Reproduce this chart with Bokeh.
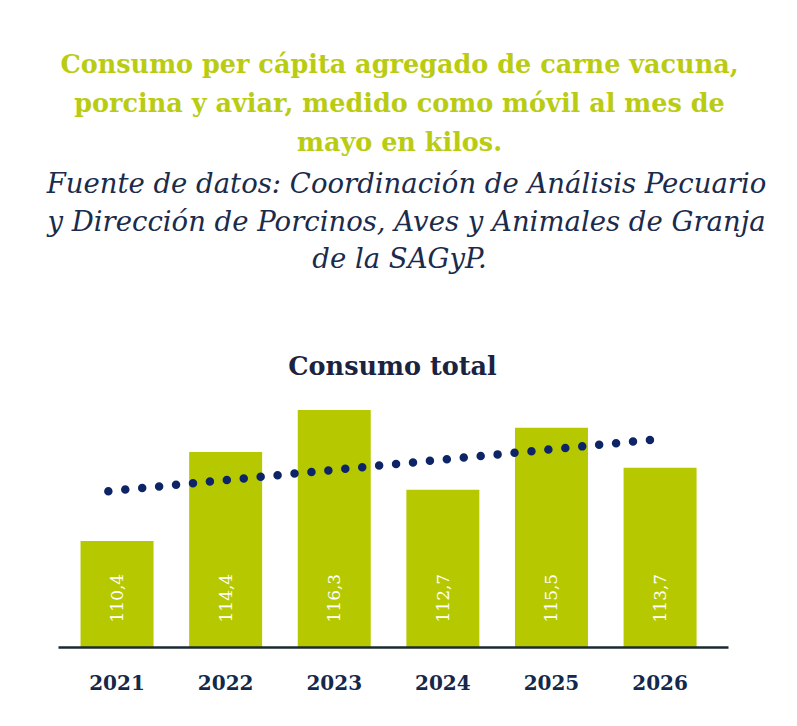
import numpy as np
from bokeh.plotting import figure
from bokeh.layouts import column
from bokeh.models import Range1d, FixedTicker
from bokeh.core.properties import value
from bokeh.embed import file_html
from bokeh.resources import INLINE

# ---- data ----
years = ["2021", "2022", "2023", "2024", "2025", "2026"]
consumo = [110.4, 114.4, 116.3, 112.7, 115.5, 113.7]
value_labels = ["110,4", "114,4", "116,3", "112,7", "115,5", "113,7"]
title_lines = [
    "Consumo per cápita agregado de carne vacuna,",
    "porcina y aviar, medido como móvil al mes de",
    "mayo en kilos.",
]
subtitle_lines = [
    "Fuente de datos: Coordinación de Análisis Pecuario",
    "y Dirección de Porcinos, Aves y Animales de Granja",
    "de la SAGyP.",
]
chart_title = "Consumo total"

GREEN = "#b6c900"
TITLE_GREEN = "#b9cc12"
NAVY = "#1a2b4c"
DOTS = "#0d2566"
YEARS_C = "#14284b"

# ---- header figure (titles) ----
head = figure(width=797, height=395, x_range=Range1d(0, 797), y_range=Range1d(395, 0),
              output_backend="svg", toolbar_location=None,
              x_axis_location=None, y_axis_location=None,
              min_border=0, outline_line_color=None)
head.frame_align = False
head.grid.visible = False
head.text(x=[399] * 3, y=[63, 102, 141], text=title_lines, text_align="center",
          text_baseline="middle", text_font=value("DejaVu Serif"), text_font_style="bold",
          text_font_size="25.5px", text_color=TITLE_GREEN)
head.text(x=[406, 406, 399], y=[182, 220, 257], text=subtitle_lines, text_align="center",
          text_baseline="middle", text_font=value("DejaVu Serif"), text_font_style="italic",
          text_font_size="27.5px", text_color=NAVY)
head.text(x=[392], y=[365], text=[chart_title], text_align="center",
          text_baseline="middle", text_font=value("DejaVu Serif"), text_font_style="bold",
          text_font_size="25.5px", text_color="#1c2340")

# ---- chart figure ----
idx = list(range(len(years)))
Y0 = 105.6
p = figure(width=797, height=331, x_range=Range1d(-0.539, 5.63), y_range=Range1d(Y0, 116.95),
           output_backend="svg", toolbar_location=None, y_axis_location=None,
           min_border_left=58, min_border_right=69, min_border_top=0, min_border_bottom=79,
           outline_line_color=None)
p.frame_align = False
p.grid.visible = False

p.vbar(x=idx, top=consumo, bottom=Y0, width=0.672, fill_color=GREEN, line_color=None)

p.text(x=idx, y=[Y0] * len(idx), text=value_labels, angle=np.pi / 2, y_offset=-25,
       text_align="left", text_baseline="middle", text_font=value("DejaVu Serif"),
       text_font_size="17px", text_color="white")

coef = np.polyfit(idx, consumo, 1)
tx = np.array([-0.08, 4.92])
p.line(x=tx, y=np.polyval(coef, tx), line_color=DOTS, line_width=8.5,
       line_dash="0 17", line_cap="round")

p.xaxis.ticker = FixedTicker(ticks=idx)
p.xaxis.major_label_overrides = {i: y for i, y in zip(idx, years)}
p.xaxis.axis_line_color = "#1b2a30"
p.xaxis.axis_line_width = 2.5
p.xaxis.major_tick_line_color = None
p.xaxis.minor_tick_line_color = None
p.xaxis.major_label_standoff = 21
p.xaxis.major_label_text_font = "DejaVu Serif"
p.xaxis.major_label_text_font_style = "bold"
p.xaxis.major_label_text_font_size = "20px"
p.xaxis.major_label_text_color = YEARS_C

layout = column(head, p, spacing=0)
open("out.html", "w").write(file_html(layout, INLINE))
